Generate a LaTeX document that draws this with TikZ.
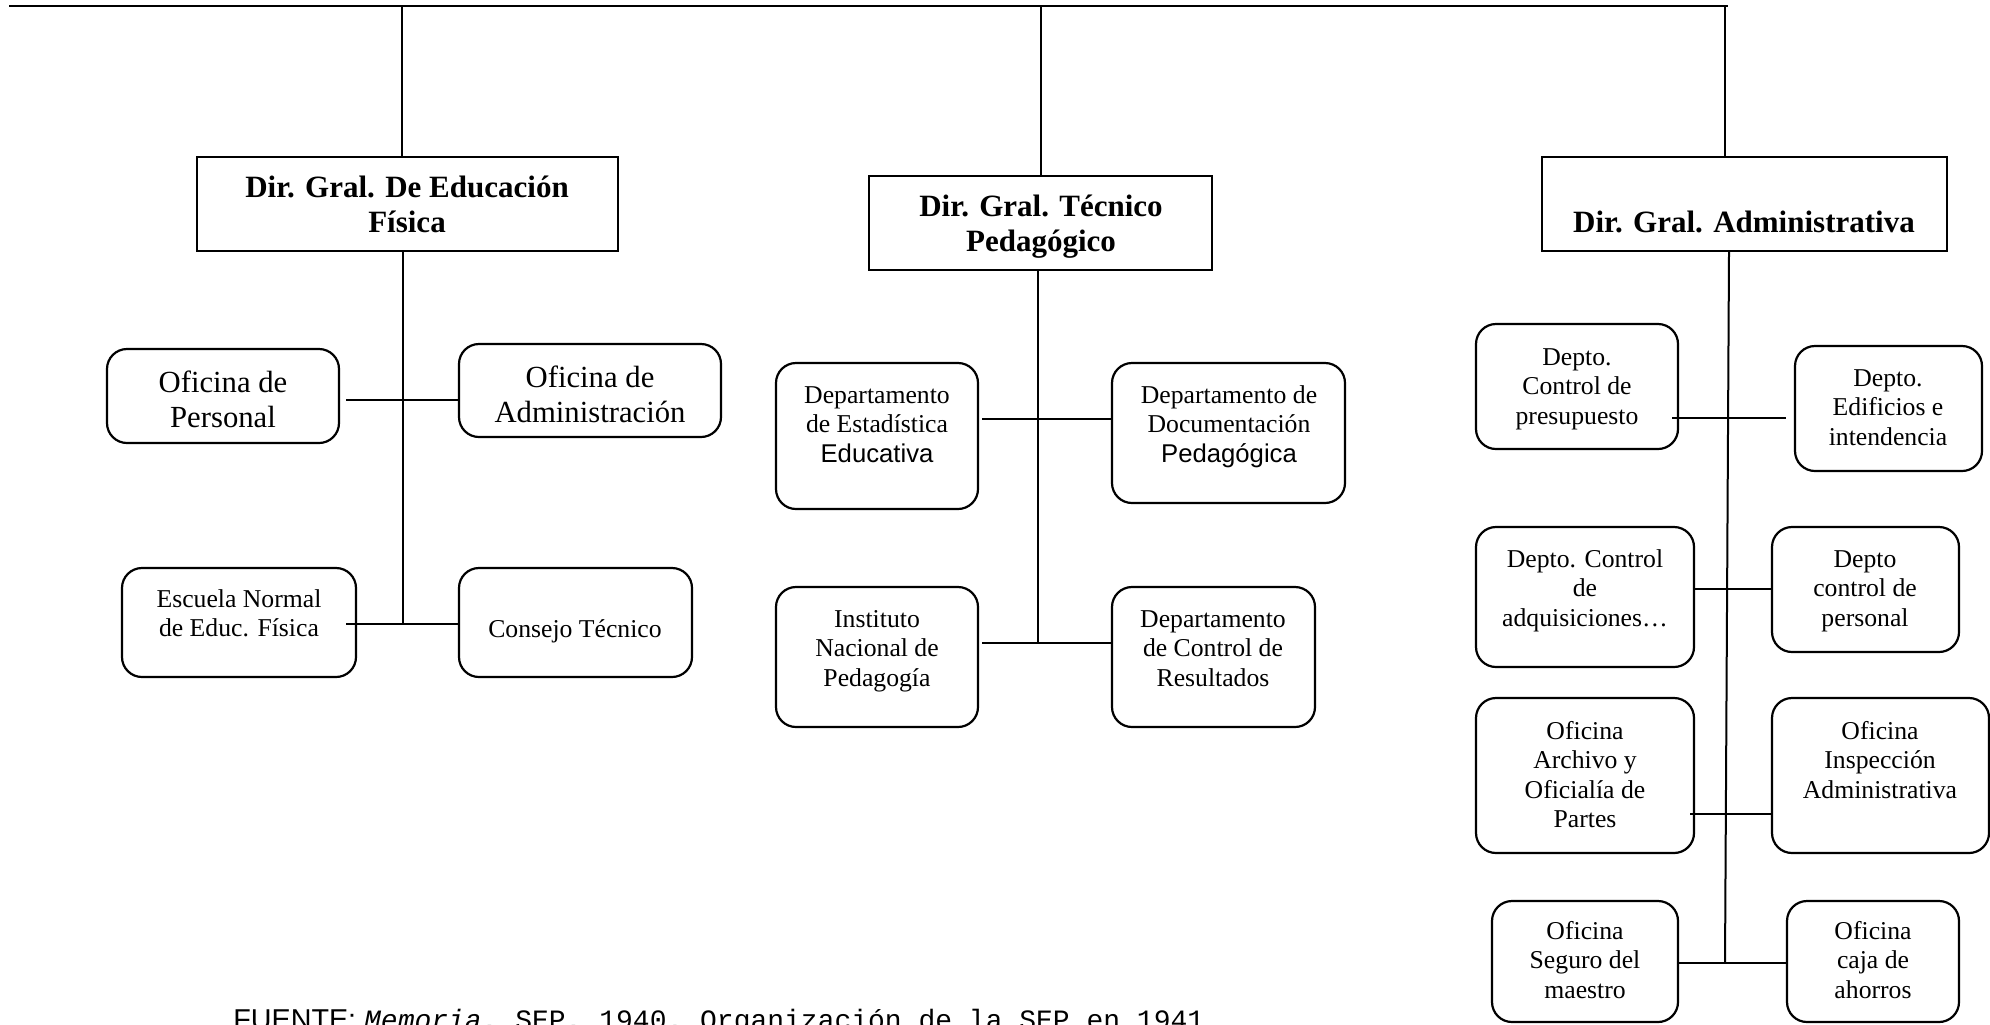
\documentclass[tikz,border=0pt]{standalone}
\usepackage{fontspec}
\setmainfont{Liberation Serif}
\setsansfont{Liberation Sans}
\setmonofont{Liberation Mono}
\usetikzlibrary{fit}
\newcommand\mlines[1]{\begin{tabular}[t]{@{}c@{}}#1\end{tabular}}
\newcommand\hdf{\fontsize{15.5}{17.5}\selectfont\bfseries}
\newcommand\bgf{\fontsize{15.35}{17.5}\selectfont}
\newcommand\smf{\fontsize{12.85}{14.75}\selectfont}
\begin{document}
\begin{tikzpicture}[x=0.5pt,y=-0.5pt,
  hbox/.style={draw, line width=1.1pt, inner sep=0pt},
  rbox/.style={draw, line width=1.1pt, rounded corners=10pt, inner sep=0pt},
  conn/.style={line width=1pt},
  hd/.style={inner sep=0pt, anchor=base, font=\hdf},
  bg/.style={inner sep=0pt, anchor=base, font=\bgf},
  sm/.style={inner sep=0pt, anchor=base, font=\smf}]
\path[use as bounding box, fill=white] (0,0) rectangle (1990,1024);

% Direcciones generales
\node[hbox, fit={(197,157) (618,251)}] (dA) {};
\node[hd] (dAt) at (407,197) {\mlines{Dir. Gral. De Educación\\Física}};
\node[hbox, fit={(869,176) (1212,270)}] (dB) {};
\node[hd] (dBt) at (1041,216) {\mlines{Dir. Gral. Técnico\\Pedagógico}};
\node[hbox, fit={(1542,157) (1947,251)}] (dC) {};
\node[hd] (dCt) at (1744,232) {Dir. Gral. Administrativa};

% Educacion fisica
\node[rbox, fit={(107,349) (339,443)}] (pers) {};
\node[bg] (perst) at (223,392) {\mlines{Oficina de\\Personal}};
\node[rbox, fit={(459,344) (721,437)}] (adm) {};
\node[bg] (admt) at (590,387) {\mlines{Oficina de\\Administración}};
\node[rbox, fit={(122,568) (356,677)}] (esc) {};
\node[sm] (esct) at (239,607) {\mlines{Escuela Normal\\de Educ. Física}};
\node[rbox, fit={(459,568) (692,677)}] (cons) {};
\node[sm] (const) at (575,637) {Consejo Técnico};

% Tecnico pedagogico
\node[rbox, fit={(776,363) (978,509)}] (est) {};
\node[sm] (estt) at (877,403) {\mlines{Departamento\\de Estadística\\{\sffamily Educativa}}};
\node[rbox, fit={(1112,363) (1345,503)}] (doc) {};
\node[sm] (doct) at (1229,403) {\mlines{Departamento de\\Documentación\\{\sffamily Pedagógica}}};
\node[rbox, fit={(776,587) (978,727)}] (ins) {};
\node[sm] (inst) at (877,627) {\mlines{Instituto\\Nacional de\\Pedagogía}};
\node[rbox, fit={(1112,587) (1315,727)}] (res) {};
\node[sm] (rest) at (1213,627) {\mlines{Departamento\\de Control de\\Resultados}};

% Administrativa
\node[rbox, fit={(1476,324) (1678,449)}] (pre) {};
\node[sm] (pret) at (1577,365) {\mlines{Depto.\\Control de\\presupuesto}};
\node[rbox, fit={(1795,346) (1982,471)}] (edi) {};
\node[sm] (edit) at (1888,386) {\mlines{Depto.\\Edificios e\\intendencia}};
\node[rbox, fit={(1476,527) (1694,667)}] (adq) {};
\node[sm] (adqt) at (1585,567) {\mlines{Depto. Control\\de\\adquisiciones…}};
\node[rbox, fit={(1772,527) (1959,652)}] (cpe) {};
\node[sm] (cpet) at (1865,567) {\mlines{Depto\\control de\\personal}};
\node[rbox, fit={(1476,698) (1694,853)}] (arc) {};
\node[sm] (arct) at (1585,739) {\mlines{Oficina\\Archivo y\\Oficialía de\\Partes}};
\node[rbox, fit={(1772,698) (1989,853)}] (isp) {};
\node[sm] (ispt) at (1880,739) {\mlines{Oficina\\Inspección\\Administrativa}};
\node[rbox, fit={(1492,901) (1678,1022)}] (seg) {};
\node[sm] (segt) at (1585,939) {\mlines{Oficina\\Seguro del\\maestro}};
\node[rbox, fit={(1787,901) (1959,1022)}] (caj) {};
\node[sm] (cajt) at (1873,939) {\mlines{Oficina\\caja de\\ahorros}};

% Connectors
\coordinate (tl) at (9,6);
\coordinate (tr) at (1728,6);
\draw[line width=1.2pt] (tl) -- (tr);
\coordinate (vA) at (402,6);
\coordinate (vB) at (1041,6);
\coordinate (vC) at (1725,6);
\draw[conn] (vA) -- (vA |- dA.north);
\draw[conn] (vB) -- (vB |- dB.north);
\draw[conn] (vC) -- (vC |- dC.north);

\coordinate (jA) at (403,624);
\draw[conn] (jA |- dA.south) -- (jA);
\coordinate (hA1) at (346,400);
\draw[conn] (hA1) -- (hA1 -| adm.west);
\coordinate (hA2) at (346,624);
\draw[conn] (hA2) -- (hA2 -| cons.west);

\coordinate (jB) at (1038,643);
\draw[conn] (jB |- dB.south) -- (jB);
\coordinate (hB1) at (982,419);
\draw[conn] (hB1) -- (hB1 -| doc.west);
\coordinate (hB2) at (982,643);
\draw[conn] (hB2) -- (hB2 -| res.west);

\coordinate (jC) at (1725,963);
\draw[conn] ([xshift=-7.75pt]dC.south) -- (jC);
\coordinate (hC1) at (1672,418);
\coordinate (eC1) at (1786,418);
\draw[conn] (hC1) -- (eC1);
\coordinate (hC2) at (1694,589);
\draw[conn] (hC2) -- (hC2 -| cpe.west);
\coordinate (hC3) at (1690,814);
\draw[conn] (hC3) -- (hC3 -| isp.west);
\draw[conn] (jC -| seg.east) -- (jC -| caj.west);

% Footer
\node[anchor=base west, inner sep=0pt] (src) at (233,1029) {{\fontsize{14.35}{16}\selectfont\sffamily FUENTE: }{\fontsize{14}{16}\selectfont\ttfamily\itshape Memoria}{\fontsize{14}{16}\selectfont\ttfamily , SEP, 1940. Organización de la SEP en 1941}};
\end{tikzpicture}
\end{document}
